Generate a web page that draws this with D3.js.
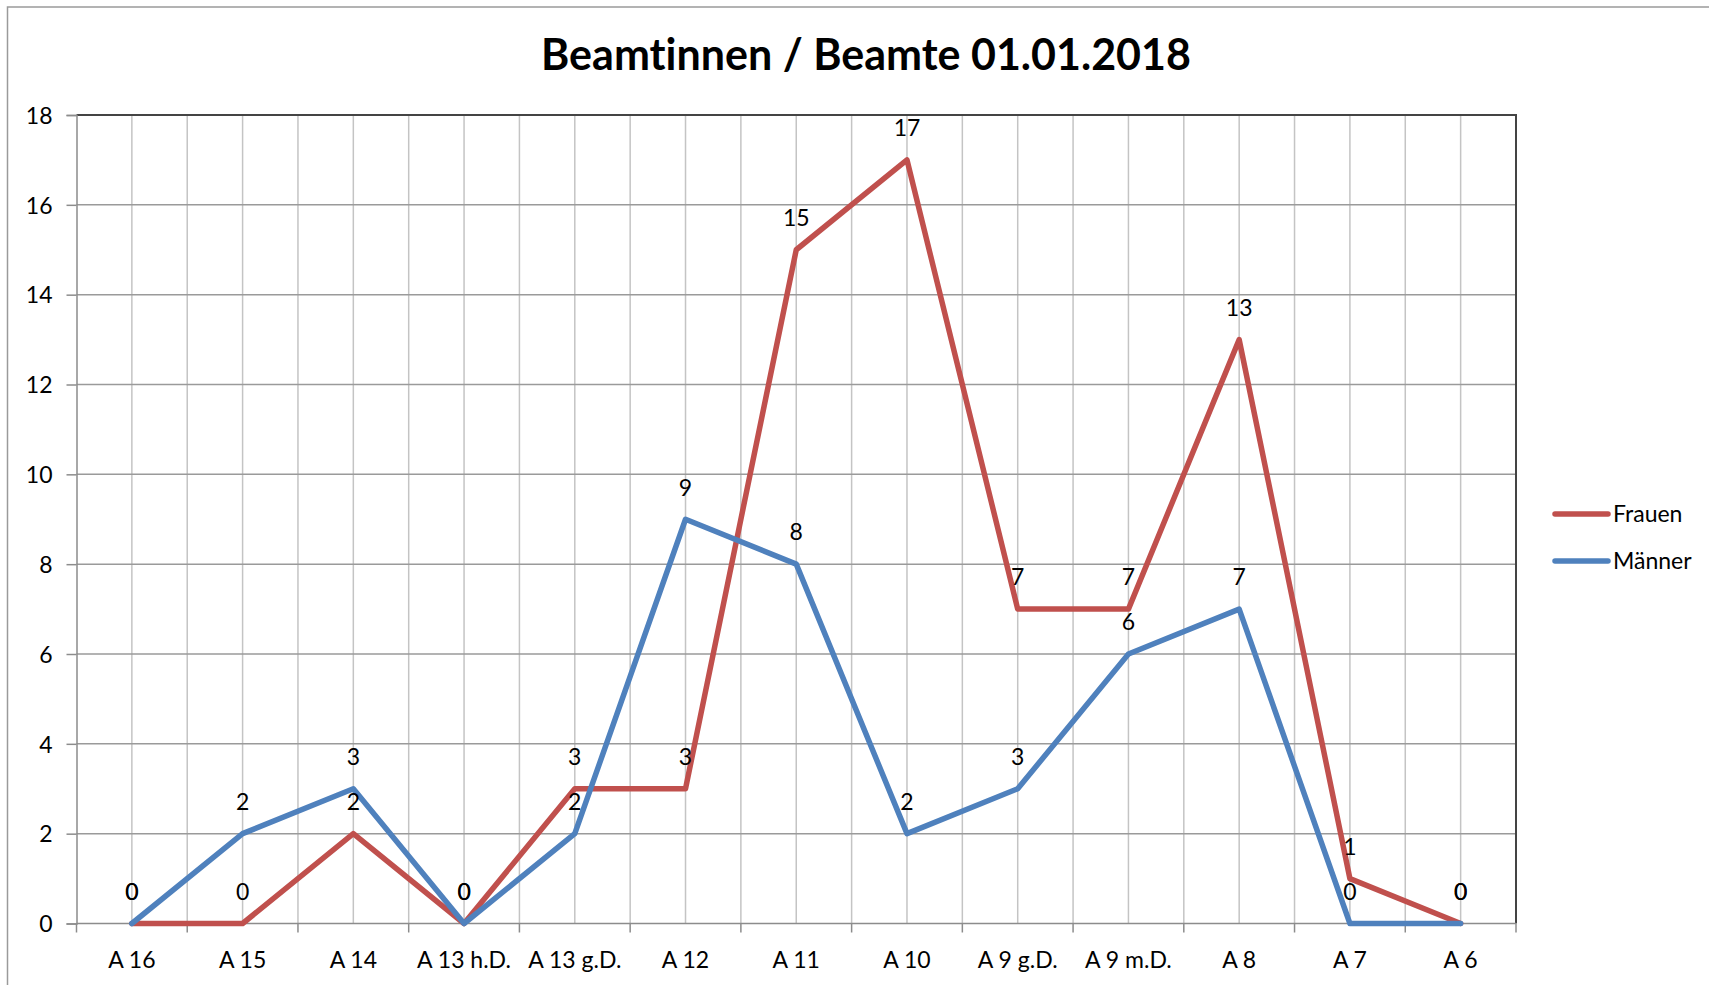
<!DOCTYPE html>
<html>
<head>
<meta charset="utf-8">
<script src="https://cdn.jsdelivr.net/npm/d3@7"></script>
<style>
	body { margin: 0; background: #fff; }
	svg text { font-family: Lato, "Open Sans", sans-serif; fill: #000; font-variant-ligatures: none; }
</style>
</head>
<body>
<svg id="chart" width="1709" height="985"></svg>
<script>
// data
const categories = ["A 16", "A 15", "A 14", "A 13 h.D.", "A 13 g.D.", "A 12", "A 11", "A 10", "A 9 g.D.", "A 9 m.D.", "A 8", "A 7", "A 6"];
const frauen = [0, 0, 2, 0, 3, 3, 15, 17, 7, 7, 13, 1, 0];
const maenner = [0, 2, 3, 0, 2, 9, 8, 2, 3, 6, 7, 0, 0];
const yTicks = [0, 2, 4, 6, 8, 10, 12, 14, 16, 18];
const seriesNames = ["Frauen", "Männer"];
const seriesColors = ["#c0504d", "#4f81bd"];

const svg = d3.select("#chart");

const plot = {left: 76.5, right: 1516, top: 115, bottom: 923.5};

// chart area border, runs out of the picture on the right and bottom
svg.append("rect")
	.attr("x", 7.5)
	.attr("y", 7)
	.attr("width", 1740)
	.attr("height", 1000)
	.attr("fill", "#fff")
	.attr("stroke", "#9a9a9a")
	.attr("stroke-width", 1.5);

var x = d3.scaleBand()
	.domain(categories)
	.range([plot.left, plot.right])
	.padding(0);

var y = d3.scaleLinear()
	.domain([0, 18])
	.range([plot.bottom, plot.top]);

const cx = d => x(d) + x.bandwidth() / 2;

//vertical grid lines, on every category and between categories
var vLines = [];
categories.forEach(c => {
	vLines.push(x(c));
	vLines.push(cx(c));
});

svg.append("g")
	.selectAll("line")
	.data(vLines.slice(1))
	.join("line")
	.attr("x1", d => d)
	.attr("x2", d => d)
	.attr("y1", plot.top)
	.attr("y2", plot.bottom)
	.attr("stroke", "#c4c4c4")
	.attr("stroke-width", 1.5);

//horizontal grid lines
svg.append("g")
	.selectAll("line")
	.data(yTicks.slice(1, -1))
	.join("line")
	.attr("x1", plot.left)
	.attr("x2", plot.right)
	.attr("y1", d => y(d))
	.attr("y2", d => y(d))
	.attr("stroke", "#9a9a9a")
	.attr("stroke-width", 1.5);

//plot area border top and right
svg.append("path")
	.attr("d", `M${plot.left},${plot.top}H${plot.right}V${plot.bottom}`)
	.attr("fill", "none")
	.attr("stroke", "#444")
	.attr("stroke-width", 2);

//y axis
var yAxis = svg.append("g")
	.attr("transform", `translate(${plot.left},0)`)
	.call(d3.axisLeft(y).tickValues(yTicks).tickSize(10).tickPadding(14).tickFormat(d3.format("d")));

//x axis, ticks between the categories
var xAxis = svg.append("g")
	.attr("transform", `translate(0,${plot.bottom})`)
	.call(d3.axisBottom(x).tickSize(0).tickPadding(28));

xAxis.selectAll(".tick")
	.append("line")
	.attr("x1", -x.bandwidth() / 2)
	.attr("x2", -x.bandwidth() / 2)
	.attr("y1", 0)
	.attr("y2", 9);

xAxis.append("line")
	.attr("x1", plot.right)
	.attr("x2", plot.right)
	.attr("y1", 0)
	.attr("y2", 9);

[yAxis, xAxis].forEach(a => {
	a.select(".domain").attr("stroke", "#8c8c8c").attr("stroke-width", 1.5);
	a.selectAll("line").attr("stroke", "#8c8c8c").attr("stroke-width", 1.5);
	a.selectAll("text")
		.attr("font-size", 23)
		.attr("font-family", "Lato, sans-serif")
		.attr("fill", "#000");
});
xAxis.select(".domain").attr("d", `M${plot.left},0H${plot.right}`);
yAxis.selectAll("text").attr("dy", "0.36em");

//series lines
const allSeries = [frauen, maenner];
var line = d3.line()
	.x((d, i) => cx(categories[i]))
	.y(d => y(d));

allSeries.forEach((s, k) => {
	svg.append("path")
		.datum(s)
		.attr("d", line)
		.attr("fill", "none")
		.attr("stroke", seriesColors[k])
		.attr("stroke-width", 5.5)
		.attr("stroke-linejoin", "round")
		.attr("stroke-linecap", "round");
});

//data labels above the points
allSeries.forEach((s, k) => {
	svg.append("g")
		.selectAll("text")
		.data(s)
		.join("text")
		.attr("x", (d, i) => cx(categories[i]))
		.attr("y", d => y(d) - 32)
		.attr("dy", "0.36em")
		.attr("text-anchor", "middle")
		.attr("font-size", 23)
		.text(d => d);
});

//title
svg.append("text")
	.attr("x", 866)
	.attr("y", 70)
	.attr("text-anchor", "middle")
	.attr("font-size", 43)
	.attr("font-weight", "bold")
	.text("Beamtinnen / Beamte 01.01.2018");

//legend
var legend = svg.append("g")
	.attr("transform", "translate(1553,514)");

seriesNames.forEach((n, k) => {
	let g = legend.append("g").attr("transform", `translate(0,${k * 47})`);
	g.append("line")
		.attr("x1", 2)
		.attr("x2", 55)
		.attr("stroke", seriesColors[k])
		.attr("stroke-width", 5.5)
		.attr("stroke-linecap", "round");
	g.append("text")
		.attr("x", 60)
		.attr("dy", "0.36em")
		.attr("font-size", 23)
		.text(n);
});
</script>
</body>
</html>
